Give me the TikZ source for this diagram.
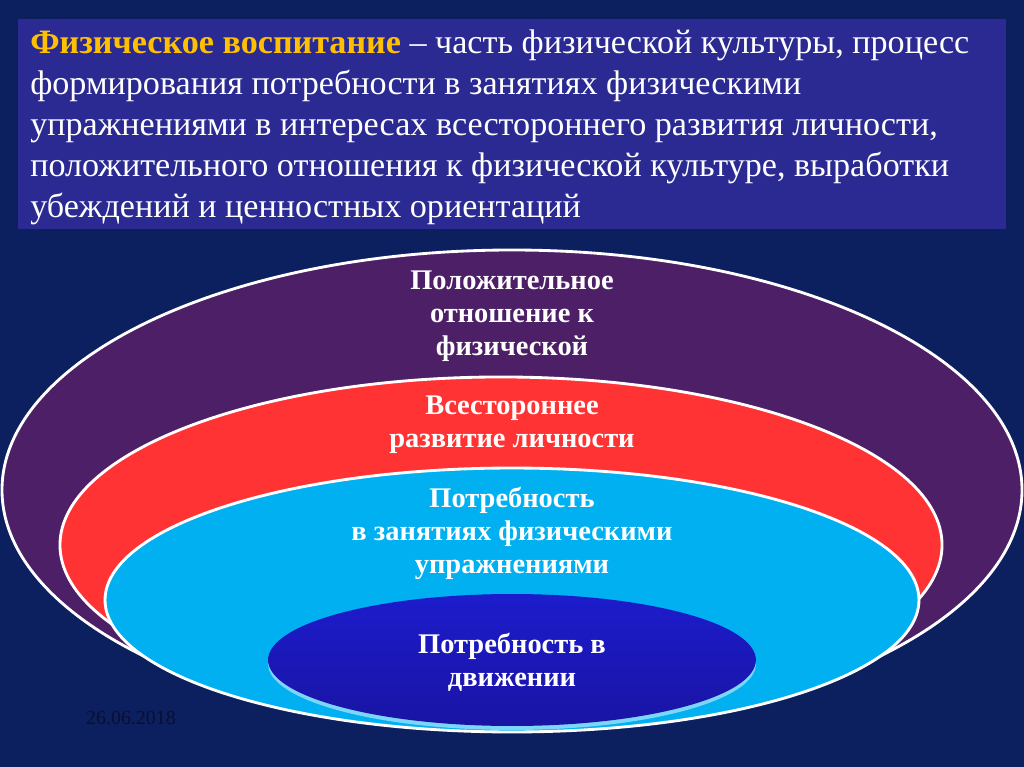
\documentclass[tikz,border=0pt]{standalone}
\usepackage{fontspec}
\setmainfont{Liberation Serif}
\usepackage{tikz}
\usetikzlibrary{positioning,shapes.geometric}
\definecolor{navybg}{HTML}{0C1F5E}
\definecolor{boxblue}{HTML}{2B2A92}
\definecolor{ringpurple}{HTML}{4C1F66}
\definecolor{ringred}{HTML}{FF3333}
\definecolor{ringcyan}{HTML}{00B0F0}
\definecolor{coretop}{HTML}{1C1CCC}
\definecolor{corebottom}{HTML}{1A14A4}
\definecolor{titleorange}{HTML}{FFC000}
\definecolor{datecol}{HTML}{0A0F33}
\tikzstyle{ring} = [ellipse, draw=white, line width=2pt, inner sep=0pt]
\tikzstyle{ringtext} = [text=white, font=\fontsize{20}{23.2}\selectfont\bfseries, align=center]

\begin{document}
\begin{tikzpicture}[x=0.703125pt, y=-0.703125pt]
\fill[navybg] (0,0) rectangle (1024,767);
\useasboundingbox (0,0) rectangle (1024,767);

% definition box
\fill[boxblue] (18,19) rectangle (1006,229);
\node (deftext) [anchor=north west, inner sep=0pt, align=left, text=white,
  font=\fontsize{24}{28.8}\selectfont] at (30,30)
  {\textcolor{titleorange}{\textbf{Физическое воспитание}} -- часть физической культуры, процесс\\
   формирования потребности в занятиях физическими\\
   упражнениями в интересах всестороннего развития личности,\\
   положительного отношения к физической культуре, выработки\\
   убеждений и ценностных ориентаций};

% nested rings
\node (outer) [ring, fill=ringpurple, minimum width=717.2pt, minimum height=337.5pt] at (512,490) {};
\node (middle) [ring, fill=ringred, minimum width=620.2pt, minimum height=236.3pt] at (501,545) {};
\node (inner) [ring, fill=ringcyan, minimum width=572.3pt, minimum height=185.6pt] at (512,600) {};
\node (glow) [ellipse, fill=white!70!ringcyan, opacity=0.7, inner sep=0pt, minimum width=343pt, minimum height=92.8pt] at (512,664) {};
\node (core) [ellipse, inner sep=0pt, top color=coretop, bottom color=corebottom, minimum width=343pt, minimum height=92.8pt] at (512,660) {};

\node (outertext) [ringtext] at (512,316) {Положительное\\отношение к\\физической};
\node (middletext) [ringtext] at (512,425) {Всестороннее\\развитие личности};
\node (innertext) [ringtext] at (512,533) {Потребность\\в занятиях физическими\\упражнениями};
\node (coretext) [ringtext] at (512,662) {Потребность в\\движении};

\node (date) [text=datecol, font=\fontsize{14}{16}\selectfont] at (131,718) {26.06.2018};
\end{tikzpicture}
\end{document}
